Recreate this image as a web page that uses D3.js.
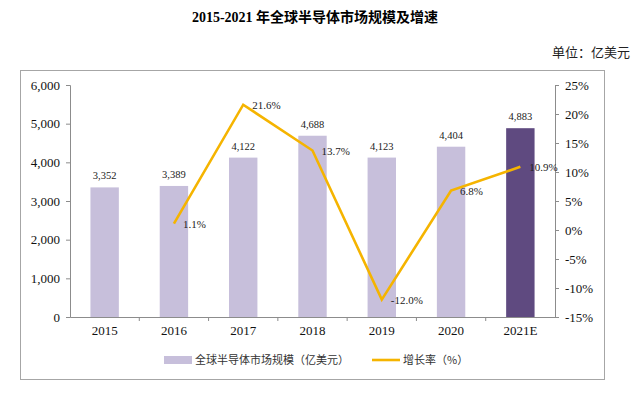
<!DOCTYPE html>
<html>
<head>
<meta charset="utf-8">
<script src="https://cdn.jsdelivr.net/npm/d3@7"></script>
<style>
  body { margin: 0; background: #fff; }
  svg { display: block; }
</style>
</head>
<body>
<svg width="640" height="393"></svg>
<script>
'use strict';

// data
var years = ['2015', '2016', '2017', '2018', '2019', '2020', '2021E'];
var marketSize = [3352, 3389, 4122, 4688, 4123, 4404, 4883];
var growthYears = ['2016', '2017', '2018', '2019', '2020', '2021E'];
var growthRate = [1.1, 21.6, 13.7, -12.0, 6.8, 10.9];
var leftTicks = [0, 1000, 2000, 3000, 4000, 5000, 6000];
var rightTicks = [-15, -10, -5, 0, 5, 10, 15, 20, 25];

var svg = d3.select('svg');
var serif = '"Liberation Serif", "Times New Roman", serif';
var cjk = '"Noto Sans CJK SC", sans-serif';
var axisColor = '#8c8c8c';

var margin = {top: 85, right: 85, bottom: 76, left: 70};
var width = 640 - margin.left - margin.right;
var height = 393 - margin.top - margin.bottom;

// title and unit
svg.append('text')
  .attr('x', 315).attr('y', 22)
  .attr('text-anchor', 'middle')
  .style('font-family', serif + ', ' + cjk)
  .style('font-weight', 'bold')
  .style('font-size', '14px')
  .text('2015-2021 年全球半导体市场规模及增速');

svg.append('text')
  .attr('x', 630).attr('y', 57)
  .attr('text-anchor', 'end')
  .style('font-family', cjk)
  .style('font-size', '13px')
  .style('fill', '#222')
  .text('单位：亿美元');

// outer frame
svg.append('rect')
  .attr('x', 20.5).attr('y', 70.5)
  .attr('width', 584).attr('height', 309)
  .attr('fill', 'none')
  .attr('stroke', '#a6a6a6')
  .attr('stroke-width', 1);

var g = svg.append('g')
  .attr('transform', 'translate(' + margin.left + ',' + margin.top + ')');

var x = d3.scaleBand().domain(years).range([0, width]).padding(0);
var y = d3.scaleLinear().domain([0, 6000]).range([height, 0]);
var y2 = d3.scaleLinear().domain([-15, 25]).range([height, 0]);
var fmt = d3.format(',');

// bars
var barW = x.bandwidth() * 0.41;
g.selectAll('.bar')
  .data(marketSize)
  .enter()
  .append('rect')
  .attr('class', 'bar')
  .attr('x', function(d, i) { return x(years[i]) + x.bandwidth() / 2 - barW / 2; })
  .attr('y', function(d) { return y(d); })
  .attr('width', barW)
  .attr('height', function(d) { return height - y(d); })
  .attr('fill', function(d, i) { return years[i] === '2021E' ? '#5f4a80' : '#c7bfdb'; });

g.selectAll('.bar-label')
  .data(marketSize)
  .enter()
  .append('text')
  .attr('x', function(d, i) { return x(years[i]) + x.bandwidth() / 2; })
  .attr('y', function(d) { return y(d) - 8; })
  .attr('text-anchor', 'middle')
  .style('font-family', serif)
  .style('font-size', '10.5px')
  .style('fill', '#222')
  .text(function(d) { return fmt(d); });

// axes
var yAxis = g.append('g')
  .call(d3.axisLeft(y).tickValues(leftTicks).tickFormat(fmt).tickSize(4).tickPadding(6));
var y2Axis = g.append('g')
  .attr('transform', 'translate(' + width + ',0)')
  .call(d3.axisRight(y2).tickValues(rightTicks).tickFormat(function(d) { return d + '%'; }).tickSize(4).tickPadding(6));
var xAxis = g.append('g')
  .attr('transform', 'translate(0,' + height + ')')
  .call(d3.axisBottom(x).tickSize(0).tickPadding(9));

// tick marks between categories on the x axis
xAxis.selectAll('.sep')
  .data(years.slice(1))
  .enter()
  .append('line')
  .attr('class', 'sep')
  .attr('x1', function(d) { return x(d); })
  .attr('x2', function(d) { return x(d); })
  .attr('y1', 0).attr('y2', 4)
  .attr('stroke', axisColor);

[yAxis, y2Axis, xAxis].forEach(function(a) {
  a.select('.domain').attr('stroke', axisColor);
  a.selectAll('.tick line').attr('stroke', axisColor);
  a.selectAll('text')
    .style('font-family', serif)
    .style('font-size', '13px')
    .style('fill', '#111');
});

// growth line
var line = d3.line()
  .x(function(d, i) { return x(growthYears[i]) + x.bandwidth() / 2; })
  .y(function(d) { return y2(d); });

g.append('path')
  .datum(growthRate)
  .attr('fill', 'none')
  .attr('stroke', '#f5b400')
  .attr('stroke-width', 2.6)
  .attr('stroke-linejoin', 'miter')
  .attr('d', line);

g.selectAll('.rate-label')
  .data(growthRate)
  .enter()
  .append('text')
  .attr('x', function(d, i) { return x(growthYears[i]) + x.bandwidth() / 2 + 9; })
  .attr('y', function(d) { return y2(d) + 4; })
  .style('font-family', serif)
  .style('font-size', '11px')
  .style('fill', '#222')
  .text(function(d) { return d.toFixed(1) + '%'; });

// legend
var legend = svg.append('g').attr('transform', 'translate(0,360)');
legend.append('rect')
  .attr('x', 164).attr('y', -4).attr('width', 28).attr('height', 8)
  .attr('fill', '#c7bfdb');
legend.append('text')
  .attr('x', 195).attr('y', 4)
  .style('font-family', cjk)
  .style('font-size', '11px')
  .style('fill', '#333')
  .text('全球半导体市场规模（亿美元）');
legend.append('line')
  .attr('x1', 372).attr('x2', 400).attr('y1', 0).attr('y2', 0)
  .attr('stroke', '#f5b400').attr('stroke-width', 2.6);
legend.append('text')
  .attr('x', 403).attr('y', 4)
  .style('font-family', cjk)
  .style('font-size', '11px')
  .style('fill', '#333')
  .text('增长率（%）');
</script>
</body>
</html>
